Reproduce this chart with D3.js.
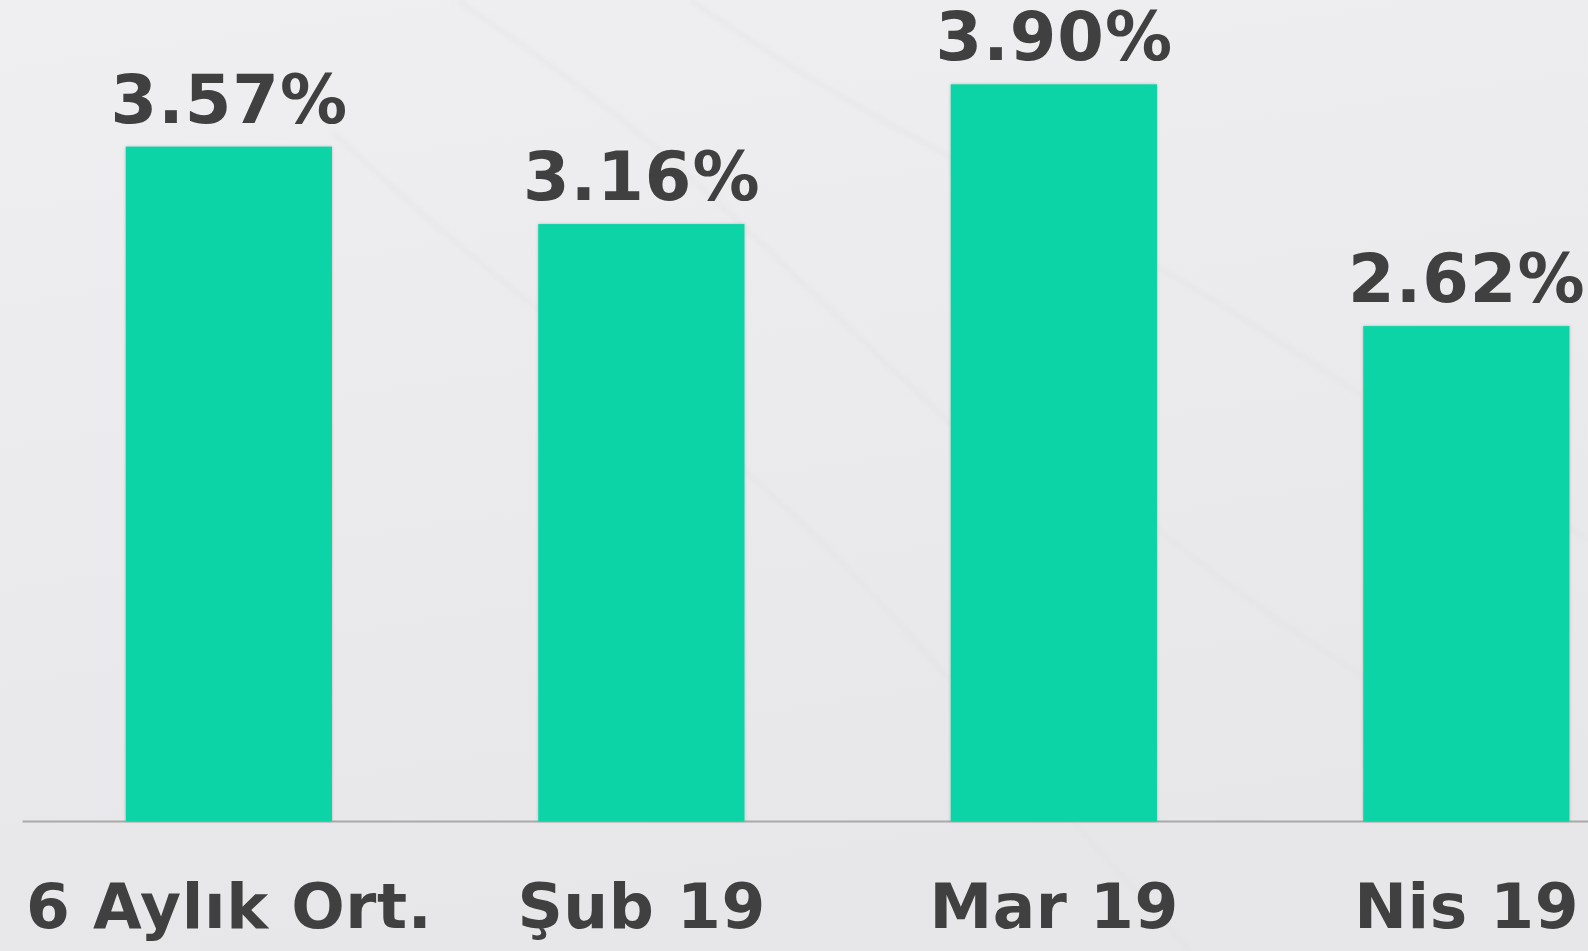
<!DOCTYPE html>
<html>
<head>
<meta charset="utf-8">
<script src="https://cdn.jsdelivr.net/npm/d3@7"></script>
<style>
  html, body { margin: 0; padding: 0; overflow: hidden; }
  svg { display: block; }
</style>
</head>
<body>
<svg width="1588" height="951"></svg>
<script>
const categories = ['6 Aylık Ort.', 'Şub 19', 'Mar 19', 'Nis 19'];
const values = [3.57, 3.16, 3.90, 2.62];
const valueLabels = ['3.57%', '3.16%', '3.90%', '2.62%'];

const width = 1588, height = 951;
const svg = d3.select('svg');

// background: soft grey with faint diagonal streaks
const defs = svg.append('defs');
const bg = defs.append('linearGradient').attr('id', 'bg')
  .attr('x1', '0').attr('y1', '0').attr('x2', '0.25').attr('y2', '1');
bg.append('stop').attr('offset', '0%').attr('stop-color', '#efeef0');
bg.append('stop').attr('offset', '100%').attr('stop-color', '#e7e7e9');

const shadow = defs.append('filter').attr('id', 'shadow')
  .attr('x', '-5%').attr('y', '-5%').attr('width', '110%').attr('height', '110%');
shadow.append('feDropShadow').attr('dx', 0).attr('dy', 0)
  .attr('stdDeviation', 1.5).attr('flood-color', '#000').attr('flood-opacity', 0.22);

const soft = defs.append('filter').attr('id', 'soft');
soft.append('feGaussianBlur').attr('stdDeviation', 2.5);

svg.append('rect').attr('width', width).attr('height', height).attr('fill', 'url(#bg)');

const streaks = [
  [[457, 0], [650, 133], [853, 333], [1000, 470]],
  [[333, 133], [497, 283], [747, 463], [900, 620], [1043, 790], [1190, 951]],
  [[690, 0], [853, 110], [1157, 260], [1357, 393], [1588, 540]],
  [[1090, 473], [1243, 600], [1400, 700]]
];
const line = d3.line().curve(d3.curveBasis);
svg.append('g').attr('filter', 'url(#soft)')
  .selectAll('path').data(streaks).join('path')
  .attr('d', line)
  .attr('fill', 'none')
  .attr('stroke', '#dcdcde')
  .attr('stroke-opacity', 0.35)
  .attr('stroke-width', 4);

const x = d3.scaleBand()
  .domain(categories)
  .range([22.6, 1672.6])
  .paddingInner(0.5)
  .paddingOuter(0.25);

const y = d3.scaleLinear()
  .domain([0, 4])
  .range([821, 65.4]);

// baseline
svg.append('line')
  .attr('x1', 22.6).attr('x2', width)
  .attr('y1', y(0) + 0.5).attr('y2', y(0) + 0.5)
  .attr('stroke', '#a9a9a9').attr('stroke-width', 2);

svg.append('g').selectAll('rect')
  .data(values)
  .join('rect')
  .attr('x', (d, i) => x(categories[i]))
  .attr('y', d => y(d))
  .attr('width', x.bandwidth())
  .attr('height', d => y(0) - y(d))
  .attr('fill', '#0fd4a6')
  .attr('filter', 'url(#shadow)');

svg.append('g').selectAll('text')
  .data(values)
  .join('text')
  .attr('x', (d, i) => x(categories[i]) + x.bandwidth() / 2 + 0.5)
  .attr('y', d => y(d) - 24)
  .attr('text-anchor', 'middle')
  .attr('font-family', 'DejaVu Sans, Verdana, sans-serif')
  .attr('font-weight', 'bold')
  .attr('font-size', 67)
  .attr('letter-spacing', 1)
  .attr('fill', '#404040')
  .text((d, i) => valueLabels[i]);

svg.append('g').selectAll('text')
  .data(categories)
  .join('text')
  .attr('x', d => x(d) + x.bandwidth() / 2 + 0.3)
  .attr('y', 928)
  .attr('text-anchor', 'middle')
  .attr('font-family', 'DejaVu Sans, Verdana, sans-serif')
  .attr('font-weight', 'bold')
  .attr('font-size', 63)
  .attr('letter-spacing', 0.6)
  .attr('fill', '#404040')
  .text(d => d);
</script>
</body>
</html>
